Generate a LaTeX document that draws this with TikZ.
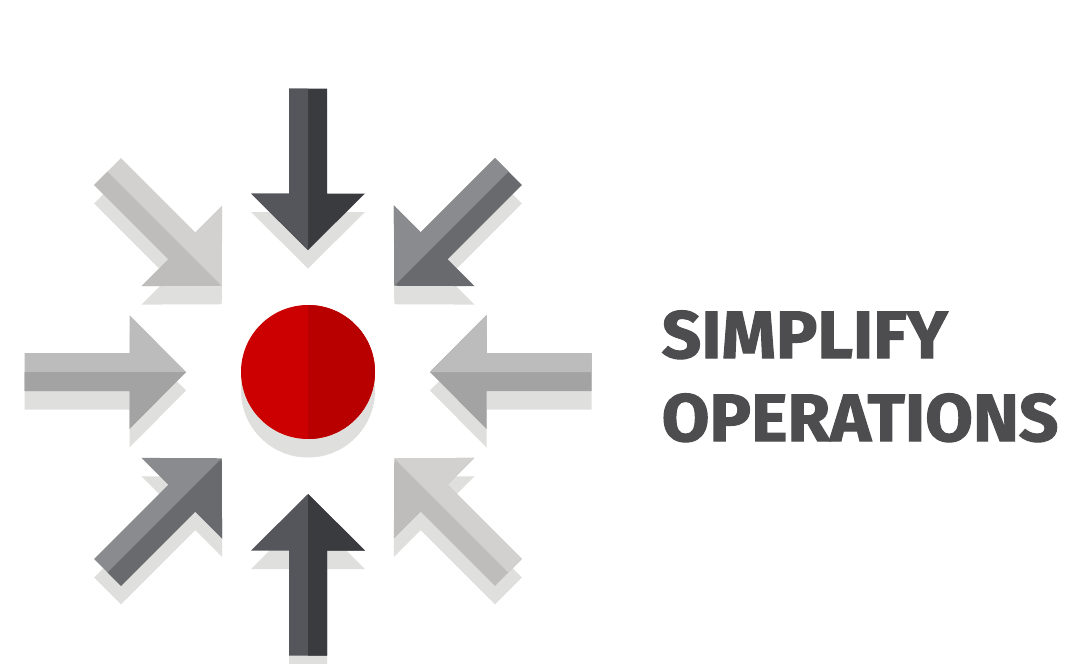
\documentclass[tikz,border=0pt]{standalone}
\usepackage{fontspec}
\newfontfamily\titlefont[FakeBold=1.6,FakeStretch=1.033]{Fira Sans Bold}
\definecolor{shadowgrey}{HTML}{DFDFDE}
\definecolor{inka}{HTML}{55565B}
\definecolor{inkb}{HTML}{3A3B3F}
\definecolor{slatea}{HTML}{8A8B8E}
\definecolor{slateb}{HTML}{696A6E}
\definecolor{silvera}{HTML}{D2D1CF}
\definecolor{silverb}{HTML}{BEBDBB}
\definecolor{midgreya}{HTML}{BCBCBC}
\definecolor{midgreyb}{HTML}{A3A3A3}
\definecolor{reda}{HTML}{CC0000}
\definecolor{redb}{HTML}{B80000}
\definecolor{titleink}{HTML}{4D4D4F}
\tikzset{
  titletext/.style={anchor=base west,inner sep=0pt,text=titleink,font=\titlefont\fontsize{67}{67}\selectfont}
}
\begin{document}
\begin{tikzpicture}[x=1pt,y=-1pt]
  \useasboundingbox (0,0) rectangle (1069,664);
  \fill[white] (0,0) rectangle (1069,664);
  \clip (0,0) rectangle (1069,664);
  % shadows
  \foreach \r in {0,45,...,315}{
    \begin{scope}[shift={(308,390.5)},rotate=\r]
      \fill[shadowgrey] (0,122) -- (57,178.5) -- (19,178.5) -- (19,283.5) -- (-19,283.5) -- (-19,178.5) -- (-57,178.5) -- cycle;
    \end{scope}
  }
  \fill[shadowgrey] (308,390.5) circle[radius=67];
  % arrows: rotation / colour of local left half / colour of local right half
  \foreach \r/\ca/\cb in {0/inka/inkb,45/silverb/silvera,90/midgreyb/midgreya,135/slateb/slatea,
                          180/inkb/inka,225/silvera/silverb,270/midgreya/midgreyb,315/slatea/slateb}{
    \begin{scope}[shift={(308,372)},rotate=\r]
      \fill[\ca] (0,122) -- (57,178.5) -- (19,178.5) -- (19,283.5) -- (-19,283.5) -- (-19,178.5) -- (-57,178.5) -- cycle;
      \fill[\cb] (0,122) -- (57,178.5) -- (19,178.5) -- (19,283.5) -- (0,283.5) -- cycle;
    \end{scope}
  }
  % hub
  \fill[reda] (308,372) circle[radius=67];
  \begin{scope}
    \clip (308,300) rectangle (380,445);
    \fill[redb] (308,372) circle[radius=67];
  \end{scope}
  % title
  \node[titletext] (line1) at (661.5,358) {SIMPLIFY};
  \node[titletext] (line2) at (661.5,441) {OPERATIONS};
\end{tikzpicture}
\end{document}
